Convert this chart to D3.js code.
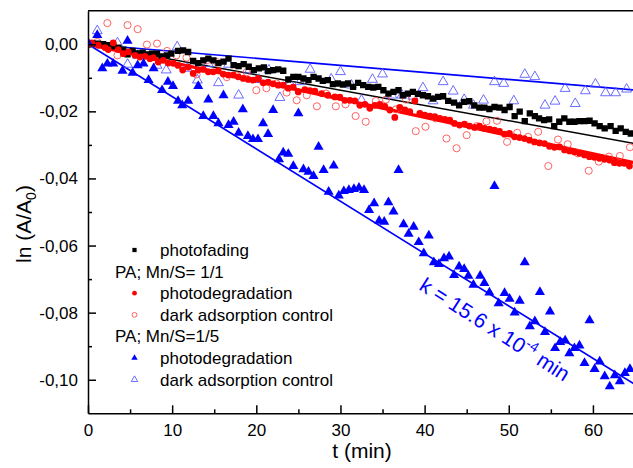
<!DOCTYPE html>
<html>
<head>
<meta charset="utf-8">
<script src="https://cdn.jsdelivr.net/npm/d3@7"></script>
<style>
  body { margin: 0; background: #fff; }
  svg { display: block; font-family: "Liberation Sans", Arial, sans-serif; }
</style>
</head>
<body>
<svg id="chart" width="633" height="468"></svg>
<script>
// ---- data: [t (min), ln(A/A0)] ----
var photofading = [
  [0,0],[0.5,0.0003],[1.2,0.0002],[1.8,0.0000],[2.4,-0.0003],[3.0,-0.0006],[3.6,-0.0010],[4.2,-0.0016],
  [4.7,-0.0030],[5.3,-0.0020],[5.9,-0.0027],[6.5,-0.0025],[7.0,-0.0030],[7.6,-0.0028],[8.2,-0.0028],
  [8.8,-0.0036],[9.4,-0.0033],[9.9,-0.0028],[10.7,-0.0020],[11.3,-0.0018],[11.9,-0.0023],[12.5,-0.0050],
  [13.1,-0.0056],[13.7,-0.0048],[14.3,-0.0043],[14.9,-0.0048],[15.5,-0.0056],[16.1,-0.0052],[16.7,-0.0043],
  [17.3,-0.0062],[17.9,-0.0065],[18.5,-0.0059],[19.1,-0.0067],[19.7,-0.0077],[20.3,-0.0072],[20.9,-0.0069],
  [21.4,-0.0080],[22.0,-0.0077],[22.6,-0.0075],[23.2,-0.0079],[23.8,-0.0105],[24.4,-0.0097],[25.0,-0.0097],
  [25.6,-0.0102],[26.2,-0.0107],[26.8,-0.0097],[27.4,-0.0102],[27.9,-0.0109],[28.5,-0.0107],[29.1,-0.0119],
  [29.7,-0.0117],[30.3,-0.0120],[30.9,-0.0117],[31.5,-0.0127],[32.1,-0.0115],[32.7,-0.0122],[33.3,-0.0127],
  [33.9,-0.0129],[34.5,-0.0127],[35.1,-0.0137],[35.7,-0.0147],[36.3,-0.0142],[36.9,-0.0137],[37.4,-0.0152],
  [38.0,-0.0147],[38.6,-0.0142],[39.2,-0.0148],[39.8,-0.0152],[40.4,-0.0155],[41.0,-0.0162],[41.6,-0.0157],
  [42.2,-0.0155],[42.8,-0.0169],[43.5,-0.0174],[44.1,-0.0182],[44.7,-0.0172],[45.3,-0.0170],[45.9,-0.0182],
  [46.5,-0.0189],[47.1,-0.0189],[47.7,-0.0193],[48.3,-0.0187],[48.9,-0.0189],[49.5,-0.0196],[50.1,-0.0187],
  [50.7,-0.0214],[51.3,-0.0201],[51.9,-0.0229],[52.5,-0.0206],[53.1,-0.0214],[53.6,-0.0221],[54.2,-0.0226],
  [54.8,-0.0224],[55.4,-0.0244],[56.0,-0.0231],[56.6,-0.0221],[57.2,-0.0231],[57.8,-0.0231],[58.4,-0.0229],
  [59.0,-0.0229],[59.6,-0.0228],[60.2,-0.0236],[60.8,-0.0244],[61.4,-0.0251],[62.1,-0.0244],[62.7,-0.0258],
  [63.3,-0.0251],[63.9,-0.0261],[64.5,-0.0266]
];

var degr11 = [
  [0,0],[0.44,0.0004],[1.22,-0.0003],[2.02,-0.0010],[2.41,-0.0016],[3.0,0.0004],[3.6,-0.0016],[4.19,-0.0028],
  [4.79,-0.0023],[5.58,-0.0033],[6.18,-0.0038],[6.77,-0.0036],[7.36,-0.0043],[7.76,-0.0040],[8.35,-0.0053],
  [8.94,-0.0048],[9.54,-0.0056],[10.13,-0.0057],[10.7,-0.0063],[11.25,-0.0077],[11.91,-0.0068],[12.5,-0.0087],
  [13.1,-0.0077],[13.69,-0.0075],[14.29,-0.0082],[14.88,-0.0082],[15.48,-0.0079],[16.07,-0.0089],[16.66,-0.0092],
  [17.26,-0.0092],[17.85,-0.0097],[18.44,-0.0102],[19.04,-0.0105],[19.63,-0.0107],[20.23,-0.0102],[20.82,-0.0115],
  [21.41,-0.0113],[22.0,-0.0118],[22.6,-0.0122],[23.19,-0.0122],[23.79,-0.0131],[24.38,-0.0128],[24.98,-0.0142],
  [25.77,-0.0135],[26.37,-0.0138],[26.96,-0.0140],[27.76,-0.0147],[28.5,-0.0152],[29.33,-0.0157],[29.93,-0.0158],
  [30.52,-0.0167],[31.12,-0.0167],[31.71,-0.0169],[32.3,-0.0182],[32.9,-0.0179],[33.49,-0.0191],[34.09,-0.0182],
  [34.68,-0.0179],[35.27,-0.0185],[35.87,-0.0196],[36.46,-0.0218],[37.05,-0.0188],[37.65,-0.0196],[38.24,-0.0201],
  [38.84,-0.0169],[39.43,-0.0206],[40.02,-0.0211],[40.62,-0.0214],[41.21,-0.0216],[41.81,-0.0221],[42.4,-0.0224],
  [42.99,-0.0226],[43.55,-0.0236],[44.15,-0.0241],[44.74,-0.0238],[45.33,-0.0244],[45.93,-0.0248],[46.52,-0.0244],
  [47.11,-0.0251],[47.71,-0.0253],[48.3,-0.0256],[48.9,-0.0260],[49.49,-0.0268],[50.08,-0.0266],[50.68,-0.0276],
  [51.27,-0.0278],[51.86,-0.0281],[52.46,-0.0286],[53.05,-0.0291],[53.65,-0.0294],[54.24,-0.0296],[54.83,-0.0304],
  [55.43,-0.0307],[56.02,-0.0306],[56.62,-0.0315],[57.21,-0.0318],[57.8,-0.0321],[58.4,-0.0325],[58.99,-0.0330],
  [59.58,-0.0335],[60.18,-0.0337],[60.77,-0.0340],[61.37,-0.0343],[61.96,-0.0345],[62.55,-0.0353],[63.15,-0.0355],
  [63.74,-0.0355],[64.34,-0.0363]
];

var dark11 = [
  [1.1,0.0007],[2.3,0.0063],[3.5,-0.0033],[4.7,0.0057],[5.9,0.0045],[7.0,-0.0001],[8.2,0.0002],[9.4,-0.0020],
  [10.5,-0.0033],[11.7,-0.0040],[12.9,-0.0090],[14.1,-0.0048],[15.3,-0.0053],[16.5,-0.0098],[17.7,-0.0093],
  [18.85,-0.0083],[20.0,-0.0137],[21.2,-0.0131],[22.4,-0.0117],[23.6,-0.0144],[24.8,-0.0167],[26.0,-0.0152],
  [27.2,-0.0185],[28.3,-0.0147],[29.45,-0.0185],[30.6,-0.0179],[31.8,-0.0214],[33.0,-0.0231],[34.2,-0.0169],
  [35.4,-0.0165],[36.6,-0.0194],[37.8,-0.0165],[38.95,-0.0259],[40.1,-0.0246],[41.3,-0.0221],[42.6,-0.0281],
  [43.8,-0.0310],[45.0,-0.0271],[46.2,-0.0244],[47.35,-0.0230],[48.6,-0.0228],[49.8,-0.0291],[51.0,-0.0264],
  [52.3,-0.0276],[53.5,-0.0261],[54.7,-0.0363],[55.85,-0.0284],[57.0,-0.0298],[58.2,-0.0325],[59.5,-0.0377],
  [60.7,-0.0350],[61.9,-0.0335],[63.2,-0.0333],[64.4,-0.0307]
];

var degr15 = [
  [0,0.0005],[1.1,0.0027],[1.7,-0.0072],[2.3,-0.0058],[3.0,-0.0058],[4.1,-0.0079],[4.7,0.0010],[5.3,-0.0085],
  [5.9,-0.0063],[6.6,-0.0058],[7.2,-0.0107],[7.8,-0.0072],[8.8,-0.0137],[9.5,-0.0112],[10.1,-0.0125],
  [10.7,-0.0169],[11.2,-0.0182],[11.9,-0.0169],[13.1,-0.0125],[13.7,-0.0214],[14.3,-0.0165],[14.9,-0.0214],
  [15.5,-0.0236],[16.1,-0.0152],[16.7,-0.0241],[17.3,-0.0231],[17.9,-0.0264],[18.4,-0.0194],[19.0,-0.0274],
  [19.6,-0.0283],[20.2,-0.0283],[20.8,-0.0236],[21.4,-0.0268],[22.0,-0.0196],[22.7,-0.0343],[23.2,-0.0323],
  [23.8,-0.0327],[24.4,-0.0363],[25.0,-0.0206],[25.6,-0.0373],[26.2,-0.0380],[26.8,-0.0393],[27.4,-0.0306],
  [28.0,-0.0375],[28.6,-0.0440],[29.2,-0.0362],[29.8,-0.0451],[30.4,-0.0438],[31.0,-0.0435],[31.6,-0.0432],
  [32.2,-0.0428],[32.8,-0.0435],[33.4,-0.0494],[34.0,-0.0474],[34.6,-0.0526],[35.2,-0.0529],[35.7,-0.0471],
  [36.3,-0.0499],[36.9,-0.0375],[37.5,-0.0537],[38.1,-0.0565],[38.7,-0.0544],[39.3,-0.0590],[39.9,-0.0623],
  [40.5,-0.0570],[41.1,-0.0650],[41.7,-0.0655],[42.3,-0.0638],[42.9,-0.0633],[43.5,-0.0688],[44.1,-0.0663],
  [44.7,-0.0670],[45.2,-0.0690],[45.8,-0.0717],[46.6,-0.0690],[47.1,-0.0712],[47.7,-0.0740],[48.3,-0.0423],
  [48.8,-0.0772],[49.5,-0.0742],[50.1,-0.0759],[50.7,-0.0800],[51.3,-0.0765],[51.9,-0.0650],[52.5,-0.0841],
  [53.1,-0.0826],[53.7,-0.0739],[54.3,-0.0858],[54.9,-0.0797],[55.5,-0.0906],[56.1,-0.0888],[56.7,-0.0883],
  [57.2,-0.0921],[57.8,-0.0906],[58.4,-0.0898],[59.0,-0.0950],[59.6,-0.0823],[60.2,-0.0968],[60.8,-0.0946],
  [61.4,-0.0990],[62.0,-0.1020],[62.6,-0.0987],[63.2,-0.1005],[63.8,-0.0980],[64.4,-0.0968]
];

var dark15 = [
  [0,0],[1.1,0.0040],[3.5,0.0004],[4.7,-0.0060],[5.9,-0.0033],[8.2,-0.0063],[9.3,-0.0077],[10.6,-0.0008],
  [11.8,-0.0072],[13.0,-0.0107],[14.3,-0.0058],[15.5,-0.0115],[16.7,-0.0060],[17.9,-0.0152],[19.2,-0.0077],
  [20.3,-0.0105],[21.5,-0.0077],[22.8,-0.0159],[24.0,-0.0117],[25.2,-0.0112],[26.4,-0.0075],[28.9,-0.0104],
  [30.0,-0.0082],[31.3,-0.0122],[32.5,-0.0167],[33.8,-0.0105],[35.0,-0.0089],[36.1,-0.0152],[37.3,-0.0152],
  [38.6,-0.0155],[39.8,-0.0130],[41.0,-0.0169],[42.2,-0.0112],[43.4,-0.0140],[44.7,-0.0165],[45.8,-0.0182],
  [47.0,-0.0167],[48.3,-0.0112],[49.4,-0.0117],[50.6,-0.0169],[51.9,-0.0090],[53.1,-0.0097],[54.3,-0.0182],
  [55.5,-0.0170],[56.7,-0.0132],[57.9,-0.0177],[59.1,-0.0139],[60.3,-0.0119],[61.5,-0.0145],[62.7,-0.0145],
  [64.0,-0.0134]
];

// fitted slopes (1/min), lines through the origin
var fitSlopes = [-0.000456, -0.000544, -0.00156, -0.00021];
var fitColors = ['#000', '#ff0000', '#0000ff', '#0000ff'];
var fitWidths = [1.5, 3.2, 1.6, 1.6];

var xTicks = [0, 10, 20, 30, 40, 50, 60];
var xMinor = [5, 15, 25, 35, 45, 55];
var yTicks = [0, -0.02, -0.04, -0.06, -0.08, -0.10];
var yMinor = [-0.01, -0.03, -0.05, -0.07, -0.09];

var legendRows = [
  { kind: 'square', text: 'photofading' },
  { kind: 'header', text: 'PA; Mn/S= 1/1' },
  { kind: 'dot', text: 'photodegradation' },
  { kind: 'ring', text: 'dark adsorption control' },
  { kind: 'header', text: 'PA; Mn/S=1/5' },
  { kind: 'tri', text: 'photodegradation' },
  { kind: 'opentri', text: 'dark adsorption control' }
];

var svg = d3.select('#chart');
var plotL = 88, plotR = 635, plotT = 10.7, plotB = 413.3;

var x = d3.scaleLinear().domain([0, 65]).range([plotL, plotR]);
var y = d3.scaleLinear().domain([-0.11, 0.01]).range([plotB, plotT]);

var loc = d3.formatLocale({ decimal: ',', thousands: '.', grouping: [3], currency: ['', ''], minus: '-' });
var fmt = loc.format('.2f');

svg.append('clipPath').attr('id', 'plot')
  .append('rect').attr('x', plotL).attr('y', plotT).attr('width', plotR - plotL).attr('height', plotB - plotT);

// fit lines
var lineGen = d3.line().x(function (d) { return x(d[0]); }).y(function (d) { return y(d[1]); });
var fits = svg.append('g').attr('clip-path', 'url(#plot)');
fitSlopes.forEach(function (k, i) {
  fits.append('path')
    .attr('d', lineGen([[0, 0], [65, k * 65]]))
    .attr('fill', 'none')
    .attr('stroke', fitColors[i])
    .attr('stroke-width', fitWidths[i]);
});

// markers
var pts = svg.append('g').attr('clip-path', 'url(#plot)');
function draw(data, type, size, fill, stroke, sw) {
  pts.append('g').selectAll('path').data(data).enter().append('path')
    .attr('d', d3.symbol().type(type).size(size))
    .attr('transform', function (d) { return 'translate(' + x(d[0]) + ',' + y(d[1]) + ')'; })
    .attr('fill', fill)
    .attr('stroke', stroke)
    .attr('stroke-width', sw);
}
draw(dark15, d3.symbolTriangle, 42, 'none', '#5a5aff', 0.9);
draw(dark11, d3.symbolCircle, 40, 'none', '#ff5050', 0.9);
draw(photofading, d3.symbolSquare, 40, '#000', 'none', 0);
draw(degr11, d3.symbolCircle, 36, '#ff0000', 'none', 0);
draw(degr15, d3.symbolTriangle, 44, '#0000ff', 'none', 0);

// axes
svg.append('g').attr('transform', 'translate(' + plotL + ',0)')
  .call(d3.axisLeft(y).tickValues(yTicks).tickSize(-8).tickSizeOuter(0).tickPadding(10).tickFormat(fmt));
svg.append('g').attr('transform', 'translate(' + plotL + ',0)')
  .call(d3.axisLeft(y).tickValues(yMinor).tickSize(-4).tickSizeOuter(0).tickFormat(''))
  .select('.domain').remove();
svg.append('g').attr('transform', 'translate(0,' + plotB + ')')
  .call(d3.axisBottom(x).tickValues(xTicks).tickSize(-8).tickSizeOuter(0).tickPadding(11));
svg.append('g').attr('transform', 'translate(0,' + plotB + ')')
  .call(d3.axisBottom(x).tickValues(xMinor).tickSize(-4).tickSizeOuter(0).tickFormat(''))
  .select('.domain').remove();

svg.selectAll('.domain, .tick line').attr('stroke', '#000').attr('stroke-width', 1.5);
svg.selectAll('.tick text').attr('font-size', 17).attr('fill', '#000')
  .attr('font-family', '"Liberation Sans", Arial, sans-serif');

// top frame
svg.append('line').attr('x1', plotL).attr('x2', 633).attr('y1', plotT).attr('y2', plotT)
  .attr('stroke', '#000').attr('stroke-width', 1.5);

// axis titles
svg.append('text').attr('x', 362).attr('y', 458).attr('text-anchor', 'middle')
  .attr('font-size', 21).text('t (min)');
var yt = svg.append('text').attr('transform', 'translate(31,224) rotate(-90)')
  .attr('text-anchor', 'middle').attr('font-size', 21);
yt.append('tspan').text('ln (A/A');
yt.append('tspan').attr('font-size', 14).attr('dy', 5).text('0');
yt.append('tspan').attr('dy', -5).text(')');

// legend
var lg = svg.append('g');
legendRows.forEach(function (r, i) {
  var cy = 250 + i * 21.6;
  if (r.kind === 'header') {
    lg.append('text').attr('x', 115).attr('y', cy + 6).attr('font-size', 17).text(r.text);
    return;
  }
  var sym = { square: d3.symbolSquare, dot: d3.symbolCircle, ring: d3.symbolCircle, tri: d3.symbolTriangle, opentri: d3.symbolTriangle }[r.kind];
  var open = r.kind === 'ring' || r.kind === 'opentri';
  var col = { square: '#000', dot: '#ff0000', ring: '#ff5050', tri: '#0000ff', opentri: '#5a5aff' }[r.kind];
  lg.append('path').attr('d', d3.symbol().type(sym).size(18))
    .attr('transform', 'translate(134.5,' + cy + ')')
    .attr('fill', open ? 'none' : col).attr('stroke', open ? col : 'none').attr('stroke-width', 0.9);
  lg.append('text').attr('x', 160).attr('y', cy + 6).attr('font-size', 17).text(r.text);
});

// rate constant annotation
var ann = svg.append('text').attr('transform', 'translate(418,289) rotate(32.5)')
  .attr('fill', '#0000ff').attr('font-size', 21);
ann.append('tspan').text('k = 15.6 x 10');
ann.append('tspan').attr('font-size', 14).attr('dy', -9).text('-4');
ann.append('tspan').attr('dy', 9).text(' min');
</script>
</body>
</html>
